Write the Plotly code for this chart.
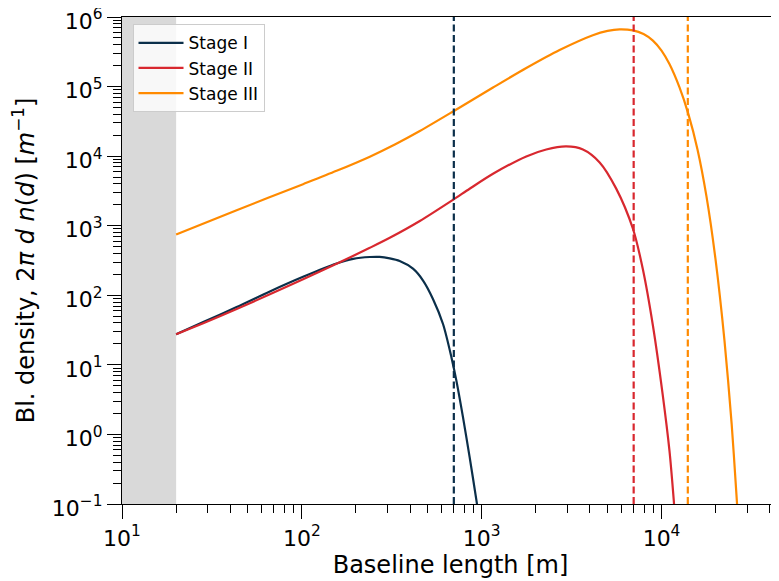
import math
import plotly.graph_objects as go

# ---- data ----
stage1_x = [20.0, 28.3, 43.4, 66.4, 101.6, 156.0, 192.8, 238.8, 271.0, 308.3, 349.9, 415.0, 472.1,
            535.8, 609.5, 679.2, 722.8, 787.0, 857.0, 935.4, 966.1]
stage1_y = [27.5, 41.2, 67.6, 113.5, 184.1, 285.8, 333.4, 354.8, 356.4, 338.8, 310.5, 241.0, 162.9,
            88.7, 38.7, 12.8, 5.98, 1.77, 0.471, 0.112, 0.0631]

stage2_x = [20.0, 28.3, 43.4, 66.4, 101.6, 156.0, 238.8, 308.3, 452.9, 693.4, 857.0, 1156, 1770, 2286,
            2951, 3656, 4529, 5598, 6934, 7870, 8954, 10160, 11070, 11700, 11890]
stage2_y = [27.5, 39.7, 63.5, 103.3, 169.8, 283.8, 480.8, 669.9, 1169, 2360, 3396, 5572, 9908, 12470,
            13800, 12470, 8128, 3412, 903.6, 238.8, 36.8, 3.67, 0.583, 0.112, 0.0631]

stage3_x = [20.0, 43.4, 101.6, 156.0, 238.8, 331.1, 452.9, 693.4, 1156, 1770, 2710, 4150, 5012, 5848,
            6934, 7943, 8954, 10000, 11070, 12590, 14130, 15850, 17780, 19950, 22390, 24550, 26000, 26610]
stage3_y = [746, 1671, 3954, 6152, 9840, 14830, 22960, 43850, 96830, 184900, 335700, 548300, 632400,
            665300, 642700, 568900, 458100, 328900, 210400, 97050, 39540, 12500, 2642, 332.7, 22.23,
            1.403, 0.158, 0.0631]

series_names = ["Stage I", "Stage II", "Stage III"]
series_colors = ["#0b2f4a", "#d8282f", "#ff8a00"]
cutoffs = [700, 7000, 14000]
excluded_band = [10, 20]

x_range = [10, 45000]
y_range = [0.1, 1e6]
x_ticks = [10, 100, 1000, 10000]
x_ticktext = ["10<sup>1</sup>", "10<sup>2</sup>", "10<sup>3</sup>", "10<sup>4</sup>"]
y_ticks = [0.1, 1, 10, 100, 1000, 10000, 100000, 1000000]
y_ticktext = ["10<sup>\u22121</sup>", "10<sup>0</sup>", "10<sup>1</sup>", "10<sup>2</sup>",
              "10<sup>3</sup>", "10<sup>4</sup>", "10<sup>5</sup>", "10<sup>6</sup>"]

FONT = "DejaVu Sans"

fig = go.Figure()

# shaded excluded region (drawn first, below everything)
fig.add_trace(go.Scatter(
    x=[excluded_band[0], excluded_band[1], excluded_band[1], excluded_band[0], excluded_band[0]],
    y=[y_range[0], y_range[0], y_range[1], y_range[1], y_range[0]],
    mode="lines", fill="toself", fillcolor="#d9d9d9", line=dict(width=0, color="#d9d9d9"),
    hoverinfo="skip", showlegend=False))

for xs, ys, name, col in zip([stage1_x, stage2_x, stage3_x],
                             [stage1_y, stage2_y, stage3_y],
                             series_names, series_colors):
    fig.add_trace(go.Scatter(x=xs, y=ys, mode="lines", name=name,
                             line=dict(color=col, width=2.2, shape="spline", smoothing=0.8)))

for c, col in zip(cutoffs, series_colors):
    fig.add_trace(go.Scatter(x=[c, c], y=y_range, mode="lines", showlegend=False, hoverinfo="skip",
                             line=dict(color=col, width=2.2, dash="7px,3.5px")))

axis_common = dict(type="log", showgrid=False, zeroline=False, automargin=False,
                   showline=True, linecolor="black", linewidth=1.2,
                   ticks="outside", ticklen=14, tickwidth=1.2, tickcolor="black",
                   ticklabeloverflow="allow",
                   tickfont=dict(family=FONT, size=22, color="black"),
                   minor=dict(ticks="outside", ticklen=8, tickwidth=1, tickcolor="black",
                              dtick="D1", showgrid=False))

fig.update_xaxes(**axis_common, range=[math.log10(x_range[0]), math.log10(x_range[1])],
                 mirror=True, tickvals=x_ticks, ticktext=x_ticktext,
                 title=dict(text="Baseline length [m]", font=dict(family=FONT, size=24, color="black"),
                            standoff=6))
fig.update_yaxes(**axis_common, range=[math.log10(y_range[0]), math.log10(y_range[1])],
                 tickvals=y_ticks, ticktext=y_ticktext, ticklabelstandoff=0, ticklabelshift=4,
                 title=dict(text="Bl. density, 2<i>\u03c0 d n</i>(<i>d</i>) [<i>m</i><sup>\u22121</sup>]",
                            font=dict(family=FONT, size=24, color="black"), standoff=12))

# page body adds an 8px margin, so the figure is 8px smaller and shifted
fig.update_layout(
    width=771, height=573,
    margin=dict(l=114, r=0, t=9, b=77),
    plot_bgcolor="white", paper_bgcolor="white",
    font=dict(family=FONT, color="black"),
    legend=dict(x=0.016, y=0.985, xanchor="left", yanchor="top",
                bgcolor="rgba(255,255,255,0.8)", bordercolor="#cccccc", borderwidth=1,
                font=dict(family=FONT, size=17, color="black"),
                itemwidth=45, tracegroupgap=0),
    showlegend=True,
)

fig.write_html("out.html")
